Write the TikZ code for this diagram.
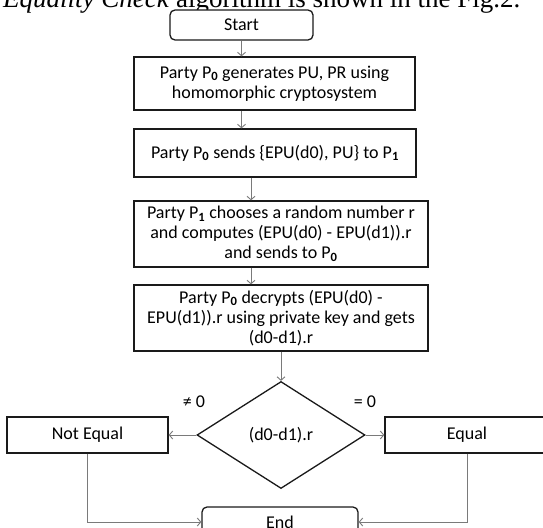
\documentclass[tikz,border=0pt]{standalone}
\usepackage{fontspec}
\setmainfont{Carlito}
\newfontfamily\paperfont{Liberation Serif}
\usepackage{xcolor}
\usetikzlibrary{arrows.meta,positioning,shapes.geometric}
\definecolor{FlowLine}{HTML}{1A1A1A}
\definecolor{FlowGray}{HTML}{7A7A7A}
\newcommand{\Party}[1]{P\textsubscript{\bfseries #1}}
\tikzset{
  flowbox/.style={draw=FlowLine,line width=1.3pt,align=center,inner sep=0pt,font=\fontsize{18}{20}\selectfont,fill=white},
  termbox/.style={flowbox,rounded corners=5pt},
  decision/.style={flowbox,diamond,aspect=1.6},
  flowarrow/.style={-{Straight Barb[length=3.5pt,width=8pt]},line width=0.9pt,draw=FlowGray},
  branchlabel/.style={font=\fontsize{18}{20}\selectfont,inner sep=0pt}
}

\begin{document}
\begin{tikzpicture}[x=1pt,y=-1pt]
\useasboundingbox (0,0) rectangle (543,527);
\clip (0,0) rectangle (543,527);
\node[anchor=base west,inner sep=0pt,font=\paperfont\fontsize{27}{30}\selectfont] (caption) at (3,8) {\textit{Equality Check} algorithm is shown in the Fig.2.};
\node[termbox,minimum width=143pt,minimum height=30pt] (start) at (241.5,25) {Start};
\node[flowbox,minimum width=281pt,minimum height=53pt] (gen) at (274.5,83.5) {Party \Party{0} generates PU, PR using\\homomorphic cryptosystem};
\node[flowbox,minimum width=282pt,minimum height=48pt] (send) at (275,153) {Party \Party{0} sends \{EPU(d0), PU\} to \Party{1}};
\node[flowbox,minimum width=294pt,minimum height=66pt] (choose) at (281,234) {Party \Party{1} chooses a random number r\\and computes (EPU(d0) - EPU(d1)).r\\and sends to \Party{0}};
\node[flowbox,minimum width=294pt,minimum height=66pt] (decrypt) at (281,318) {Party \Party{0} decrypts (EPU(d0) -\\EPU(d1)).r using private key and gets\\(d0-d1).r};
\node[decision,minimum width=168pt,minimum height=107pt] (check) at (281,435) {(d0-d1).r};
\node[flowbox,minimum width=161pt,minimum height=36pt] (noteq) at (87.5,435) {Not Equal};
\node[flowbox,minimum width=164pt,minimum height=36pt] (eq) at (467,435) {Equal};
\node[termbox,minimum width=156pt,minimum height=30pt] (stop) at (280,522) {End};
\node[branchlabel] (nonzero) at (194,402) {≠ 0};
\node[branchlabel] (zero) at (365,402) {= 0};
% main column
\coordinate (spine) at (251,0);
\draw[flowarrow] (start.south) -- (start.south |- gen.north);
\draw[flowarrow] (gen.south -| start.south) -- (send.north -| start.south);
\draw[flowarrow] (send.south -| spine) -- (choose.north -| spine);
\draw[flowarrow] (choose.south -| spine) -- (decrypt.north -| spine);
\draw[flowarrow] (decrypt.south) -- (check.north);
% branches
\draw[flowarrow] (check.west) -- (noteq.east);
\draw[flowarrow] (check.east) -- (eq.west);
\draw[flowarrow] (noteq.south) |- (stop.west);
\draw[flowarrow] (eq.south) |- (stop.east);
\end{tikzpicture}
\end{document}
